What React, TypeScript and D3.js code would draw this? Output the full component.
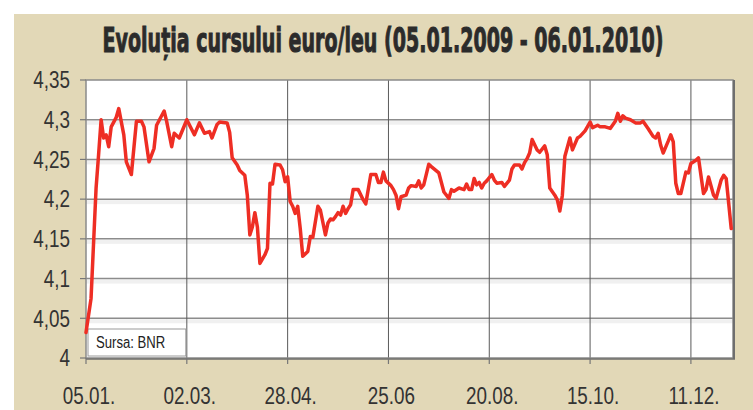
import React from "react";
import * as d3 from "d3";

const dayIndex = [0,2,4,5,6,7,8,9,10,12,13,15,16,18,20,22,23,25,27,28,31,32,34,35,37,40,43,45,47,49,50,52,53,56,57,58,60,61,63,64,65,66,67,68,69,71,72,73,74,75,77,78,79,80,81,82,83,84,85,86,88,89,90,92,93,95,96,97,98,99,100,101,102,103,104,105,106,108,110,111,113,115,116,117,118,119,121,122,123,124,125,127,128,129,131,132,133,134,136,137,140,142,144,145,146,148,150,151,152,153,154,155,156,157,158,159,161,162,163,165,166,168,169,170,172,173,174,175,176,177,179,180,182,183,184,186,187,188,189,190,192,193,195,196,198,200,201,203,204,206,208,210,211,212,213,214,216,218,220,221,223,225,226,227,228,229,231,232,233,234,235,236,238,239,240,242,243,245,246,247,249,250,252,253,254,256];

const rate = [4.032,4.075,4.214,4.256,4.300,4.277,4.281,4.266,4.291,4.303,4.314,4.281,4.247,4.231,4.298,4.298,4.291,4.247,4.264,4.293,4.311,4.298,4.266,4.283,4.277,4.300,4.281,4.296,4.283,4.285,4.277,4.294,4.297,4.296,4.284,4.252,4.243,4.236,4.230,4.205,4.155,4.165,4.183,4.165,4.119,4.130,4.138,4.220,4.219,4.244,4.243,4.237,4.222,4.228,4.197,4.191,4.182,4.191,4.163,4.128,4.134,4.153,4.152,4.191,4.186,4.155,4.170,4.175,4.174,4.178,4.183,4.180,4.191,4.182,4.188,4.193,4.212,4.212,4.199,4.194,4.231,4.231,4.221,4.221,4.234,4.223,4.217,4.212,4.205,4.188,4.203,4.205,4.214,4.217,4.216,4.223,4.214,4.218,4.244,4.241,4.233,4.209,4.201,4.212,4.210,4.214,4.212,4.219,4.212,4.212,4.226,4.218,4.221,4.214,4.220,4.223,4.231,4.224,4.220,4.221,4.216,4.224,4.238,4.243,4.243,4.238,4.246,4.251,4.258,4.275,4.262,4.259,4.267,4.256,4.214,4.205,4.199,4.185,4.205,4.254,4.277,4.262,4.277,4.279,4.286,4.297,4.290,4.293,4.291,4.291,4.289,4.298,4.308,4.298,4.305,4.302,4.300,4.296,4.296,4.298,4.289,4.279,4.277,4.283,4.268,4.258,4.273,4.281,4.272,4.220,4.207,4.207,4.234,4.233,4.245,4.249,4.252,4.207,4.212,4.228,4.205,4.201,4.224,4.230,4.226,4.163];

const xTickIndex = [0, 40, 80, 120, 160, 200, 240];
const xTickLabels = ["05.01.", "02.03.", "28.04.", "25.06", "20.08.", "15.10.", "11.12."];
const yTicks = [4, 4.05, 4.1, 4.15, 4.2, 4.25, 4.3, 4.35];
const yTickLabels = ["4", "4,05", "4,1", "4,15", "4,2", "4,25", "4,3", "4,35"];

const titleText = "Evoluția cursului euro/leu (05.01.2009 - 06.01.2010)";
const sourceText = "Sursa: BNR";

export default function App() {
  const W = 753, H = 410;
  const left = 86, right = 733, top = 80, bottom = 358;
  const x = d3.scaleLinear().domain([0, 256.7]).range([left, right]);
  const y = d3.scaleLinear().domain([4, 4.35]).range([bottom, top]);
  const line = d3.line<number>()
    .x((_, i) => x(dayIndex[i]))
    .y((d) => y(d))
    .curve(d3.curveLinear);
  const labelFont = "'Liberation Sans', Arial, sans-serif";
  const sx = 0.82;

  return (
    <div style={{ position: "fixed", left: 0, top: 0 }}>
      <svg width={W} height={H} style={{ display: "block" }}>
        <rect x={0} y={0} width={W} height={H} fill="#ffffff" />
        <rect x={14} y={14} width={W - 14} height={H - 14} fill="#e2d8b7" />
        <g transform="translate(383,52) scale(0.56,1)">
          <text
            x={0}
            y={0}
            textAnchor="middle"
            fontFamily="'DejaVu Sans', sans-serif"
            fontWeight="bold"
            fontSize={34}
            fill="#2b2b2b"
            stroke="#2b2b2b"
            strokeWidth={1.1}
          >
            {titleText}
          </text>
        </g>
        {/* plot background */}
        <rect x={left} y={top} width={right - left} height={bottom - top} fill="#ffffff" />
        {/* light bands under gridlines */}
        {yTicks.slice(1, -1).map((t) => (
          <rect key={"b" + t} x={left} y={y(t) + 1} width={right - left} height={4} fill="#f0f0f0" />
        ))}
        {/* horizontal gridlines */}
        {yTicks.slice(1, -1).map((t) => (
          <line key={"h" + t} x1={left} x2={right} y1={y(t)} y2={y(t)} stroke="#8c8c8c" strokeWidth={1.5} />
        ))}
        {/* vertical gridlines */}
        {xTickIndex.slice(1).map((t) => (
          <line key={"v" + t} x1={x(t)} x2={x(t)} y1={top} y2={bottom} stroke="#5a5a5a" strokeWidth={1} />
        ))}
        {/* frame */}
        <rect x={left} y={top} width={right - left} height={bottom - top} fill="none" stroke="#8a8a8a" strokeWidth={1.5} />
        <line x1={right + 1} x2={right + 1} y1={top} y2={bottom + 1} stroke="#6e6e6e" strokeWidth={2} />
        <line x1={left} x2={right + 2} y1={bottom + 1} y2={bottom + 1} stroke="#6e6e6e" strokeWidth={1.5} />
        {/* y ticks */}
        {yTicks.map((t, i) => (
          <g key={"yt" + t}>
            <line x1={left - 6} x2={left} y1={y(t)} y2={y(t)} stroke="#777" strokeWidth={1.2} />
            <g transform={`translate(70,${y(t)}) scale(${sx},1)`}>
              <text
                x={0}
                y={0}
                dy="0.36em"
                textAnchor="end"
                fontFamily={labelFont}
                fontSize={23}
                fill="#333"
              >
                {yTickLabels[i]}
              </text>
            </g>
          </g>
        ))}
        {/* x ticks */}
        {xTickIndex.map((t, i) => (
          <g key={"xt" + t}>
            <line x1={x(t)} x2={x(t)} y1={bottom} y2={bottom + 6} stroke="#777" strokeWidth={1.2} />
            <g transform={`translate(${x(t) + 3},404) scale(${sx},1)`}>
              <text
                x={0}
                y={0}
                textAnchor="middle"
                fontFamily={labelFont}
                fontSize={23}
                fill="#333"
              >
                {xTickLabels[i]}
              </text>
            </g>
          </g>
        ))}
        {/* source box */}
        <rect x={left + 2} y={329} width={x(40) - left - 3} height={27} fill="#ffffff" stroke="#9a9a9a" strokeWidth={1} />
        <g transform={`translate(96,348) scale(${sx},1)`}>
          <text x={0} y={0} fontFamily={labelFont} fontSize={16} fill="#222">
            {sourceText}
          </text>
        </g>
        {/* line */}
        <path
          d={line(rate) || ""}
          fill="none"
          stroke="#ee2e24"
          strokeWidth={3.5}
          strokeLinejoin="round"
          strokeLinecap="round"
        />
      </svg>
    </div>
  );
}
